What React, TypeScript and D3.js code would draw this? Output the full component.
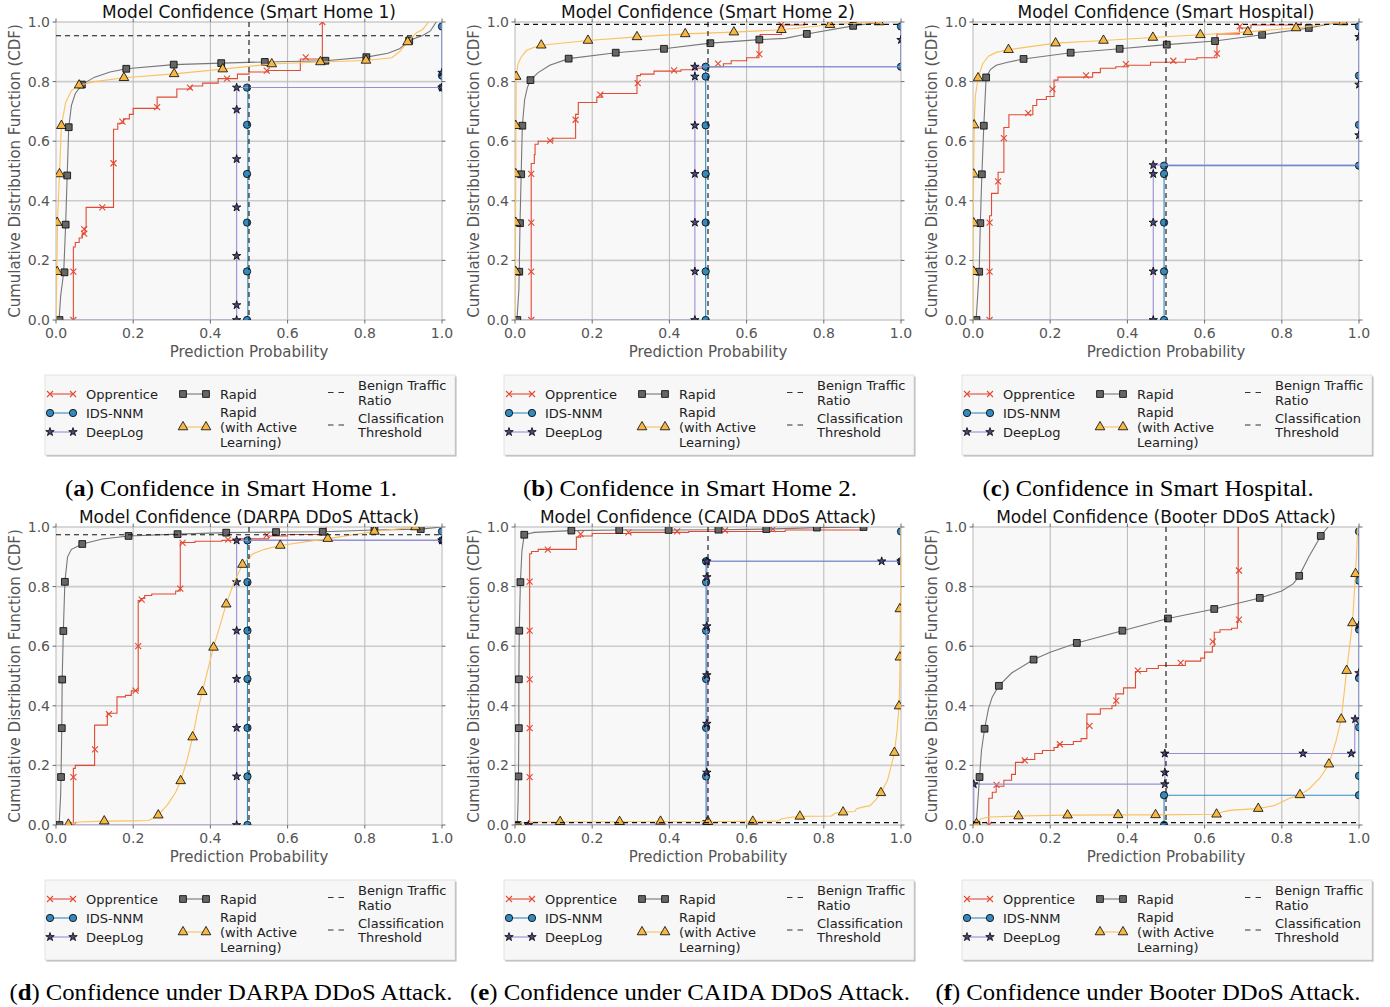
import React from 'react';
import * as d3 from 'd3';

// ---- text ----
const panelTitles = [
  'Model Confidence (Smart Home 1)',
  'Model Confidence (Smart Home 2)',
  'Model Confidence (Smart Hospital)',
  'Model Confidence (DARPA DDoS Attack)',
  'Model Confidence (CAIDA DDoS Attack)',
  'Model Confidence (Booter DDoS Attack)',
];
const captionLetters = ['a', 'b', 'c', 'd', 'e', 'f'];
const captionTexts = [
  'Confidence in Smart Home 1.',
  'Confidence in Smart Home 2.',
  'Confidence in Smart Hospital.',
  'Confidence under DARPA DDoS Attack.',
  'Confidence under CAIDA DDoS Attack.',
  'Confidence under Booter DDoS Attack.',
];
const legendNames = [
  ['Opprentice'],
  ['IDS-NNM'],
  ['DeepLog'],
  ['Rapid'],
  ['Rapid', '(with Active', 'Learning)'],
  ['Benign Traffic', 'Ratio'],
  ['Classification', 'Threshold'],
];
const ticks = [0, 0.2, 0.4, 0.6, 0.8, 1.0];

// horizontal dashed line per panel and vertical threshold
const benignRatio = [0.954, 0.992, 0.992, 0.974, 0.008, 0.008];
const threshold = 0.5;

// ---- Opprentice (step CDF: [x, value after step]) ----
const opprenticeCurves = [
  [[0.045, 0], [0.045, 0.245], [0.05, 0.26], [0.06, 0.275], [0.068, 0.29], [0.075, 0.31], [0.078, 0.378], [0.149, 0.64], [0.16, 0.66], [0.175, 0.675], [0.19, 0.69], [0.2, 0.71], [0.262, 0.748], [0.313, 0.775], [0.35, 0.785], [0.38, 0.795], [0.42, 0.81], [0.47, 0.825], [0.5, 0.832], [0.55, 0.837], [0.633, 0.876], [0.69, 1.0]],
  [[0.042, 0], [0.042, 0.525], [0.05, 0.555], [0.052, 0.59], [0.06, 0.6], [0.098, 0.61], [0.157, 0.69], [0.164, 0.73], [0.212, 0.748], [0.225, 0.76], [0.316, 0.82], [0.325, 0.825], [0.36, 0.835], [0.43, 0.84], [0.47, 0.845], [0.5, 0.85], [0.54, 0.86], [0.56, 0.87], [0.6, 0.88], [0.632, 0.94], [0.635, 0.958], [0.69, 0.99], [0.75, 1.0]],
  [[0.043, 0], [0.043, 0.35], [0.048, 0.425], [0.065, 0.496], [0.08, 0.646], [0.093, 0.689], [0.155, 0.72], [0.165, 0.74], [0.19, 0.75], [0.21, 0.805], [0.22, 0.815], [0.31, 0.83], [0.33, 0.845], [0.37, 0.85], [0.4, 0.855], [0.46, 0.865], [0.55, 0.875], [0.58, 0.88], [0.632, 0.96], [0.69, 0.98], [0.72, 0.99], [0.85, 1.0]],
  [[0.045, 0], [0.045, 0.19], [0.05, 0.2], [0.1, 0.335], [0.133, 0.375], [0.158, 0.43], [0.18, 0.435], [0.195, 0.45], [0.213, 0.753], [0.22, 0.76], [0.23, 0.77], [0.248, 0.775], [0.31, 0.785], [0.322, 0.948], [0.36, 0.952], [0.43, 0.955], [0.47, 0.96], [0.55, 0.97], [0.6, 0.975], [0.69, 0.985], [0.7, 1.0]],
  [[0.038, 0], [0.038, 0.91], [0.043, 0.918], [0.06, 0.925], [0.159, 0.966], [0.17, 0.97], [0.2, 0.978], [0.3, 0.982], [0.45, 0.985], [0.7, 0.99], [0.9, 1.0]],
  [[0.041, 0], [0.041, 0.09], [0.05, 0.11], [0.06, 0.13], [0.08, 0.15], [0.1, 0.17], [0.11, 0.21], [0.13, 0.22], [0.16, 0.24], [0.18, 0.25], [0.21, 0.26], [0.22, 0.27], [0.26, 0.28], [0.28, 0.29], [0.295, 0.372], [0.33, 0.39], [0.36, 0.4], [0.37, 0.44], [0.39, 0.46], [0.421, 0.515], [0.45, 0.525], [0.48, 0.535], [0.55, 0.55], [0.59, 0.56], [0.6, 0.58], [0.62, 0.6], [0.625, 0.647], [0.64, 0.655], [0.67, 0.66], [0.685, 0.68], [0.687, 1.0]],
];
const opprenticeMarks = [
  [[0.045, 0], [0.045, 0.162], [0.073, 0.29], [0.073, 0.305], [0.12, 0.378], [0.149, 0.526], [0.172, 0.666], [0.262, 0.714], [0.347, 0.78], [0.443, 0.81], [0.546, 0.837], [0.647, 0.881], [0.69, 1.0]],
  [[0.042, 0], [0.042, 0.162], [0.042, 0.327], [0.042, 0.49], [0.091, 0.602], [0.157, 0.672], [0.221, 0.756], [0.318, 0.795], [0.412, 0.838], [0.526, 0.86], [0.633, 0.892], [0.69, 0.991]],
  [[0.043, 0], [0.043, 0.162], [0.043, 0.327], [0.065, 0.465], [0.08, 0.61], [0.143, 0.694], [0.206, 0.775], [0.293, 0.821], [0.396, 0.859], [0.519, 0.87], [0.632, 0.894], [0.691, 0.985]],
  [[0.045, 0], [0.045, 0.161], [0.101, 0.254], [0.137, 0.372], [0.206, 0.451], [0.213, 0.6], [0.222, 0.756], [0.322, 0.793], [0.328, 0.947], [0.446, 0.958], [0.546, 0.973]],
  [[0.038, 0], [0.038, 0.161], [0.038, 0.325], [0.038, 0.489], [0.038, 0.652], [0.038, 0.817], [0.085, 0.924], [0.17, 0.976], [0.294, 0.982], [0.42, 0.985], [0.544, 0.989], [0.668, 0.993]],
  [[0.041, 0], [0.061, 0.135], [0.134, 0.217], [0.225, 0.271], [0.302, 0.333], [0.371, 0.417], [0.427, 0.518], [0.538, 0.544], [0.621, 0.615], [0.689, 0.689], [0.689, 0.854]],
];

// ---- IDS-NNM (step CDF) ----
const idsCurves = [
  [[0.497, 0], [0.497, 0.78], [1, 1]],
  [[0.494, 0], [0.494, 0.85], [1, 1]],
  [[0.495, 0], [0.495, 0.518], [1, 1]],
  [[0.496, 0], [0.496, 0.955], [1, 1]],
  [[0.495, 0], [0.495, 0.885], [1, 1]],
  [[0.495, 0], [0.495, 0.1], [1, 1]],
];
const idsMarks = [
  [[0.495, 0], [0.495, 0.163], [0.495, 0.327], [0.495, 0.49], [0.495, 0.655], [0.495, 0.78], [1, 0.78], [1, 0.82], [1, 0.985]],
  [[0.494, 0], [0.494, 0.163], [0.494, 0.327], [0.494, 0.49], [0.494, 0.653], [0.494, 0.817], [0.494, 0.85], [1, 0.85], [1, 0.985]],
  [[0.495, 0], [0.495, 0.163], [0.495, 0.327], [0.495, 0.49], [0.495, 0.518], [1, 0.518], [1, 0.655], [1, 0.82], [1, 0.985]],
  [[0.496, 0], [0.496, 0.163], [0.496, 0.326], [0.496, 0.49], [0.496, 0.652], [0.496, 0.815], [0.496, 0.955], [1, 0.955], [1, 0.985]],
  [[0.495, 0], [0.495, 0.163], [0.495, 0.326], [0.495, 0.49], [0.495, 0.652], [0.495, 0.815], [0.495, 0.885], [1, 0.885], [1, 0.985]],
  [[0.495, 0], [0.495, 0.1], [1, 0.1], [1, 0.165], [1, 0.328], [1, 0.493], [1, 0.656], [1, 0.82], [1, 0.985]],
];

// ---- DeepLog (step CDF) ----
const deepLogCurves = [
  [[0, 0], [0.468, 0.78], [1, 1]],
  [[0, 0], [0.466, 0.85], [1, 1]],
  [[0, 0], [0.467, 0.52], [1, 1]],
  [[0, 0], [0.468, 0.955], [1, 1]],
  [[0.035, 0], [0.497, 0.885], [1, 1]],
  [[0.002, 0], [0.002, 0.137], [0.497, 0.24], [0.989, 0.355], [1, 1]],
];
const deepLogMarks = [
  [[0.468, 0], [0.468, 0.05], [0.468, 0.215], [0.468, 0.378], [0.468, 0.54], [0.468, 0.706], [0.468, 0.78], [1, 0.78], [1, 0.83]],
  [[0.466, 0], [0.466, 0.163], [0.466, 0.327], [0.466, 0.49], [0.466, 0.653], [0.466, 0.817], [0.466, 0.85], [1, 0.94]],
  [[0.467, 0], [0.467, 0.163], [0.467, 0.327], [0.467, 0.49], [0.467, 0.52], [1, 0.62], [1, 0.79], [1, 0.95]],
  [[0.468, 0], [0.468, 0.163], [0.468, 0.326], [0.468, 0.49], [0.468, 0.652], [0.468, 0.815], [0.468, 0.955], [1, 0.955]],
  [[0.035, 0], [0.497, 0.01], [0.497, 0.176], [0.497, 0.34], [0.497, 0.503], [0.497, 0.667], [0.497, 0.832], [0.497, 0.885], [0.95, 0.885], [1, 0.885]],
  [[0.002, 0.137], [0.497, 0.137], [0.497, 0.176], [0.497, 0.24], [0.855, 0.24], [0.98, 0.24], [0.99, 0.355], [1, 0.51], [1, 0.67]],
];

// ---- Rapid ----
const rapidCurves = [
  [[0.008, 0], [0.012, 0.08], [0.02, 0.16], [0.025, 0.32], [0.029, 0.485], [0.033, 0.647], [0.04, 0.72], [0.05, 0.76], [0.067, 0.79], [0.1, 0.815], [0.14, 0.832], [0.182, 0.843], [0.305, 0.857], [0.428, 0.862], [0.541, 0.866], [0.698, 0.87], [0.804, 0.882], [0.86, 0.895], [0.89, 0.91], [0.915, 0.938], [0.95, 0.955], [0.97, 0.97], [0.985, 1.0]],
  [[0.005, 0], [0.01, 0.1], [0.011, 0.162], [0.013, 0.325], [0.016, 0.489], [0.019, 0.652], [0.025, 0.74], [0.032, 0.78], [0.04, 0.805], [0.06, 0.83], [0.09, 0.855], [0.139, 0.877], [0.261, 0.897], [0.386, 0.91], [0.506, 0.929], [0.633, 0.941], [0.7, 0.945], [0.756, 0.96], [0.876, 0.987], [0.92, 0.995], [0.95, 1.0]],
  [[0.008, 0], [0.012, 0.08], [0.016, 0.162], [0.019, 0.325], [0.023, 0.489], [0.028, 0.652], [0.034, 0.814], [0.045, 0.84], [0.06, 0.855], [0.09, 0.865], [0.131, 0.876], [0.253, 0.897], [0.38, 0.91], [0.502, 0.924], [0.627, 0.936], [0.749, 0.957], [0.87, 0.98], [0.93, 0.995], [0.96, 1.0]],
  [[0.008, 0], [0.012, 0.1], [0.013, 0.161], [0.015, 0.325], [0.016, 0.488], [0.019, 0.651], [0.023, 0.816], [0.03, 0.9], [0.04, 0.925], [0.068, 0.943], [0.12, 0.96], [0.188, 0.97], [0.315, 0.976], [0.441, 0.981], [0.57, 0.983], [0.691, 0.984], [0.825, 0.99], [0.945, 0.993], [1.0, 1.0]],
  [[0.006, 0], [0.008, 0.08], [0.009, 0.163], [0.01, 0.325], [0.01, 0.489], [0.011, 0.652], [0.014, 0.815], [0.018, 0.92], [0.024, 0.974], [0.05, 0.982], [0.146, 0.988], [0.27, 0.99], [0.398, 0.99], [0.527, 0.991], [0.651, 0.993], [0.782, 0.998], [0.903, 1.0]],
  [[0.008, 0], [0.012, 0.07], [0.017, 0.161], [0.022, 0.25], [0.03, 0.323], [0.04, 0.39], [0.05, 0.43], [0.067, 0.467], [0.1, 0.51], [0.157, 0.555], [0.2, 0.58], [0.269, 0.611], [0.387, 0.652], [0.505, 0.693], [0.625, 0.725], [0.743, 0.762], [0.8, 0.785], [0.83, 0.81], [0.845, 0.836], [0.87, 0.9], [0.901, 0.97], [0.92, 1.0]],
];
const rapidMarks = [
  [[0.009, 0], [0.022, 0.16], [0.025, 0.32], [0.029, 0.485], [0.033, 0.647], [0.067, 0.79], [0.182, 0.843], [0.305, 0.857], [0.428, 0.862], [0.541, 0.866], [0.698, 0.87], [0.804, 0.882], [0.915, 0.938]],
  [[0.006, 0], [0.011, 0.162], [0.013, 0.325], [0.016, 0.489], [0.019, 0.652], [0.04, 0.805], [0.139, 0.877], [0.261, 0.897], [0.386, 0.91], [0.506, 0.929], [0.633, 0.941], [0.756, 0.96], [0.876, 0.987]],
  [[0.009, 0], [0.016, 0.162], [0.019, 0.325], [0.023, 0.489], [0.028, 0.652], [0.034, 0.814], [0.131, 0.876], [0.253, 0.897], [0.38, 0.91], [0.502, 0.924], [0.627, 0.936], [0.749, 0.957], [0.87, 0.98]],
  [[0.009, 0], [0.013, 0.161], [0.015, 0.325], [0.016, 0.488], [0.019, 0.651], [0.023, 0.816], [0.068, 0.943], [0.188, 0.97], [0.315, 0.976], [0.441, 0.981], [0.57, 0.983], [0.691, 0.984], [0.825, 0.99], [0.945, 0.993]],
  [[0.007, 0], [0.009, 0.163], [0.01, 0.325], [0.01, 0.489], [0.011, 0.652], [0.014, 0.815], [0.024, 0.974], [0.146, 0.988], [0.27, 0.99], [0.398, 0.99], [0.527, 0.991], [0.651, 0.993], [0.782, 0.998], [0.903, 1.0]],
  [[0.009, 0], [0.017, 0.161], [0.03, 0.323], [0.067, 0.467], [0.157, 0.555], [0.269, 0.611], [0.387, 0.652], [0.505, 0.693], [0.625, 0.725], [0.743, 0.762], [0.845, 0.836], [0.901, 0.97]],
];

// ---- Rapid (with Active Learning) ----
const rapidAlCurves = [
  [[0, 0], [0.002, 0.16], [0.004, 0.33], [0.009, 0.49], [0.014, 0.652], [0.025, 0.73], [0.04, 0.77], [0.06, 0.788], [0.1, 0.8], [0.176, 0.813], [0.306, 0.826], [0.432, 0.842], [0.559, 0.859], [0.685, 0.866], [0.803, 0.871], [0.87, 0.88], [0.89, 0.9], [0.911, 0.933], [0.935, 0.965], [0.95, 0.975], [0.965, 1.0]],
  [[0, 0], [0.002, 0.5], [0.003, 0.817], [0.008, 0.86], [0.015, 0.88], [0.03, 0.905], [0.05, 0.915], [0.068, 0.922], [0.189, 0.938], [0.316, 0.95], [0.441, 0.96], [0.567, 0.966], [0.69, 0.974], [0.816, 0.991], [0.943, 1.0]],
  [[0, 0], [0.001, 0.4], [0.003, 0.654], [0.006, 0.75], [0.013, 0.812], [0.025, 0.86], [0.04, 0.885], [0.06, 0.898], [0.092, 0.907], [0.214, 0.929], [0.338, 0.938], [0.466, 0.948], [0.589, 0.957], [0.712, 0.967], [0.837, 0.98], [0.959, 1.0]],
  [[0.03, 0], [0.045, 0.005], [0.06, 0.01], [0.125, 0.013], [0.2, 0.014], [0.24, 0.015], [0.255, 0.025], [0.265, 0.033], [0.29, 0.07], [0.31, 0.11], [0.323, 0.148], [0.34, 0.22], [0.354, 0.295], [0.365, 0.37], [0.379, 0.447], [0.395, 0.53], [0.408, 0.596], [0.425, 0.67], [0.441, 0.741], [0.46, 0.81], [0.483, 0.874], [0.51, 0.91], [0.54, 0.925], [0.581, 0.938], [0.704, 0.961], [0.825, 0.985], [0.931, 1.0]],
  [[0, 0.006], [0.05, 0.01], [0.3, 0.011], [0.5, 0.011], [0.616, 0.012], [0.68, 0.013], [0.69, 0.02], [0.71, 0.025], [0.738, 0.029], [0.82, 0.03], [0.83, 0.04], [0.85, 0.043], [0.88, 0.045], [0.885, 0.055], [0.9, 0.06], [0.92, 0.065], [0.935, 0.085], [0.948, 0.108], [0.965, 0.15], [0.975, 0.2], [0.983, 0.243], [0.99, 0.32], [0.995, 0.399], [0.997, 0.5], [0.998, 0.65], [0.999, 0.8], [1.0, 1.0]],
  [[0.005, 0], [0.01, 0.01], [0.02, 0.02], [0.04, 0.027], [0.118, 0.03], [0.245, 0.033], [0.376, 0.034], [0.473, 0.034], [0.631, 0.036], [0.65, 0.045], [0.67, 0.05], [0.739, 0.055], [0.78, 0.065], [0.82, 0.09], [0.847, 0.101], [0.87, 0.12], [0.9, 0.16], [0.922, 0.204], [0.94, 0.28], [0.954, 0.355], [0.968, 0.518], [0.983, 0.678], [0.991, 0.843], [0.995, 0.95], [0.997, 1.0]],
];
const rapidAlMarks = [
  [[0.003, 0.162], [0.003, 0.327], [0.009, 0.49], [0.014, 0.652], [0.06, 0.788], [0.176, 0.813], [0.306, 0.826], [0.432, 0.842], [0.559, 0.859], [0.685, 0.866], [0.803, 0.871], [0.911, 0.933]],
  [[0.002, 0.162], [0.002, 0.327], [0.002, 0.49], [0.002, 0.652], [0.003, 0.817], [0.068, 0.922], [0.189, 0.938], [0.316, 0.95], [0.441, 0.96], [0.567, 0.966], [0.69, 0.974], [0.816, 0.991], [0.943, 1.0]],
  [[0.002, 0.162], [0.002, 0.325], [0.002, 0.489], [0.003, 0.654], [0.013, 0.812], [0.092, 0.907], [0.214, 0.929], [0.338, 0.938], [0.466, 0.948], [0.589, 0.957], [0.712, 0.967], [0.837, 0.98], [0.959, 1.0]],
  [[0.032, 0.002], [0.125, 0.013], [0.265, 0.033], [0.323, 0.148], [0.354, 0.295], [0.379, 0.447], [0.408, 0.596], [0.441, 0.741], [0.483, 0.874], [0.581, 0.938], [0.704, 0.961], [0.825, 0.985], [0.931, 1.0]],
  [[0.117, 0.011], [0.271, 0.011], [0.377, 0.012], [0.5, 0.011], [0.616, 0.012], [0.738, 0.029], [0.85, 0.043], [0.948, 0.108], [0.983, 0.243], [0.995, 0.399], [0.997, 0.563], [0.997, 0.725]],
  [[0.009, 0.004], [0.118, 0.03], [0.245, 0.033], [0.376, 0.034], [0.473, 0.034], [0.631, 0.036], [0.739, 0.055], [0.847, 0.101], [0.922, 0.204], [0.954, 0.355], [0.968, 0.518], [0.983, 0.678], [0.991, 0.843]],
];

// ---- styles / layout ----
const series = [
  { curves: opprenticeCurves, marks: opprenticeMarks, color: '#e24a33', fill: 'none', marker: 'x', step: true },
  { curves: idsCurves, marks: idsMarks, color: '#348abd', fill: '#348abd', marker: 'circle', step: true },
  { curves: deepLogCurves, marks: deepLogMarks, color: '#988ed5', fill: '#4a4680', marker: 'star', step: true },
  { curves: rapidCurves, marks: rapidMarks, color: '#777777', fill: '#666666', marker: 'square', step: false },
  { curves: rapidAlCurves, marks: rapidAlMarks, color: '#fbc15e', fill: '#f6b845', marker: 'triangle', step: false },
];

const symbols: Record<string, string> = {
  circle: d3.symbol(d3.symbolCircle, 42)() as string,
  square: d3.symbol(d3.symbolSquare, 46)() as string,
  triangle: d3.symbol(d3.symbolTriangle, 40)() as string,
  star: d3.symbol(d3.symbolStar, 22)() as string,
  x: 'M-3,-3L3,3M-3,3L3,-3',
};

const PW = 386;
const PH = 298;
const colLefts = [56, 515, 973];
const rowTops = [22, 527];
const captionCenters = [231, 690, 1148];
const captionWidths = [332, 334, 331, 443, 440, 425];
const sans = '"DejaVu Sans", Verdana, sans-serif';

function Marker({ kind, color, fill, x, y }: any) {
  return (
    <path
      d={symbols[kind]}
      transform={`translate(${x},${y})`}
      fill={kind === 'x' ? 'none' : fill}
      stroke={kind === 'x' ? color : '#000'}
      strokeWidth={kind === 'x' ? 1.1 : 0.8}
    />
  );
}

function Legend({ left, top }: { left: number; top: number }) {
  const cols = [5, 138, 281];
  const textX = [41, 175, 313];
  const items = [
    { s: 0, col: 0, lines: [19] },
    { s: 1, col: 0, lines: [38] },
    { s: 2, col: 0, lines: [57] },
    { s: 3, col: 1, lines: [19] },
    { s: 4, col: 1, lines: [37, 52, 67] },
    { s: 5, col: 2, lines: [10, 25] },
    { s: 6, col: 2, lines: [43, 57] },
  ];
  return (
    <g transform={`translate(${left},${top})`}>
      <rect x={1.5} y={1.5} width={410} height={80} fill="#b5b5b5" />
      <rect x={0} y={0} width={410} height={80} fill="#f7f7f7" stroke="#dddddd" strokeWidth={0.8} />
      {items.map((it, k) => {
        const hy = (it.lines[0] + it.lines[it.lines.length - 1]) / 2;
        const x0 = cols[it.col];
        const st = series[it.s];
        return (
          <g key={k}>
            {st ? (
              <g>
                <line x1={x0} x2={x0 + 23} y1={hy} y2={hy} stroke={st.color} strokeWidth={1.1} />
                <Marker kind={st.marker} color={st.color} fill={st.fill} x={x0} y={hy} />
                <Marker kind={st.marker} color={st.color} fill={st.fill} x={x0 + 23} y={hy} />
              </g>
            ) : (
              <line x1={x0 + 2} x2={x0 + 18} y1={hy} y2={hy} stroke="#333" strokeWidth={1.1} strokeDasharray="5.5,5" />
            )}
            {legendNames[it.s].map((t, j) => (
              <text key={j} x={textX[it.col]} y={it.lines[j]} dy="0.35em" fontSize={13} fill="#222" fontFamily={sans}>
                {t}
              </text>
            ))}
          </g>
        );
      })}
    </g>
  );
}

function Panel({ i }: { i: number }) {
  const left = colLefts[i % 3];
  const top = rowTops[Math.floor(i / 3)];
  const x = d3.scaleLinear().domain([0, 1]).range([0, PW]);
  const y = d3.scaleLinear().domain([0, 1]).range([PH, 0]);
  const clipId = `clip-${i}`;
  return (
    <g transform={`translate(${left},${top})`}>
      <defs>
        <clipPath id={clipId}>
          <rect x={0} y={0} width={PW} height={PH} />
        </clipPath>
      </defs>
      <rect x={0} y={0} width={PW} height={PH} fill="#f8f8f8" />
      {ticks.map((t) => (
        <line key={`h${t}`} x1={0} x2={PW} y1={y(t)} y2={y(t)} stroke="#cbcbcb" strokeWidth={1.6} />
      ))}
      {ticks.map((t) => (
        <line key={`v${t}`} x1={x(t)} x2={x(t)} y1={0} y2={PH} stroke="#b8b8b8" strokeWidth={1} />
      ))}
      {ticks.map((t) => (
        <g key={`t${t}`} stroke="#444" strokeWidth={0.8}>
          <line x1={-3.5} x2={0} y1={y(t)} y2={y(t)} />
          <line x1={PW} x2={PW + 3.5} y1={y(t)} y2={y(t)} />
          <line x1={x(t)} x2={x(t)} y1={PH} y2={PH + 3.5} />
          <line x1={x(t)} x2={x(t)} y1={-3.5} y2={0} />
        </g>
      ))}
      <g clipPath={`url(#${clipId})`}>
        {series.map((s, k) => {
          const line = d3
            .line<number[]>()
            .x((d) => x(d[0]))
            .y((d) => y(d[1]))
            .curve(s.step ? d3.curveStepAfter : d3.curveLinear);
          return (
            <g key={k}>
              <path d={line(s.curves[i] as number[][]) || ''} fill="none" stroke={s.color} strokeWidth={1.1} />
              {(s.marks[i] as number[][]).map((m, j) => (
                <Marker key={j} kind={s.marker} color={s.color} fill={s.fill} x={x(m[0])} y={y(m[1])} />
              ))}
            </g>
          );
        })}
        <line x1={0} x2={PW} y1={y(benignRatio[i])} y2={y(benignRatio[i])} stroke="#111" strokeWidth={1.1} strokeDasharray="5,4" />
        <line x1={x(threshold)} x2={x(threshold)} y1={0} y2={PH} stroke="#111" strokeWidth={1.1} strokeDasharray="5,4" />
      </g>
      {ticks.map((t) => (
        <text key={`yl${t}`} x={-6} y={y(t)} dy="0.35em" textAnchor="end" fontSize={14} fill="#555" fontFamily={sans}>
          {t.toFixed(1)}
        </text>
      ))}
      {ticks.map((t) => (
        <text key={`xl${t}`} x={x(t)} y={PH + 18} textAnchor="middle" fontSize={14} fill="#555" fontFamily={sans}>
          {t.toFixed(1)}
        </text>
      ))}
      <text x={PW / 2} y={-4.5} textAnchor="middle" fontSize={17} fill="#111" fontFamily={sans}>
        {panelTitles[i]}
      </text>
      <text x={PW / 2} y={PH + 37} textAnchor="middle" fontSize={15} fill="#555" fontFamily={sans}>
        Prediction Probability
      </text>
      <text
        transform={`translate(-41,${PH / 2}) rotate(-90)`}
        textAnchor="middle"
        dy="0.35em"
        fontSize={15}
        fill="#555"
        fontFamily={sans}
      >
        Cumulative Distribution Function (CDF)
      </text>
      <Legend left={-11} top={PH + 55} />
    </g>
  );
}

export default function App() {
  return (
    <svg width={1390} height={1007} style={{ position: 'absolute', left: 0, top: 0, background: '#fff' }}>
      {panelTitles.map((_, i) => (
        <Panel key={i} i={i} />
      ))}
      {captionTexts.map((c, i) => (
        <text
          key={`c${i}`}
          x={captionCenters[i % 3]}
          y={i < 3 ? 496 : 1000}
          textAnchor="middle"
          fontSize={24}
          fill="#000"
          fontFamily='"Liberation Serif", "Times New Roman", serif'
          textLength={captionWidths[i]}
          lengthAdjust="spacingAndGlyphs"
        >
          (<tspan fontWeight="bold">{captionLetters[i]}</tspan>) {c}
        </text>
      ))}
    </svg>
  );
}
